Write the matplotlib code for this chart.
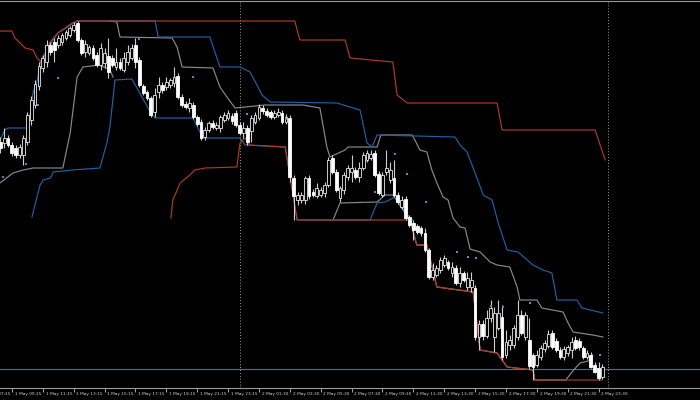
import matplotlib
matplotlib.use("Agg")
import matplotlib.pyplot as plt
import numpy as np

# M15 candles, bar index 0 = 1 May 07:15, price in points
first_bar = 5
opens = [258, 257, 262, 255, 252, 245, 245, 258, 280, 295, 314, 332, 338, 355, 358, 355, 358, 362, 365, 370,
         377, 360, 348, 347, 352, 345, 335, 337, 344, 342, 333, 338, 330, 338, 342, 355, 340, 314, 308, 302,
         288, 308, 315, 313, 315, 317, 324, 303, 296, 292, 295, 283, 278, 263, 270, 277, 272, 272, 280, 282,
         284, 287, 275, 267, 272, 269, 278, 282, 292, 289, 288, 283, 285, 287, 278, 282, 222, 200, 200, 200,
         222, 208, 204, 205, 207, 215, 242, 228, 202, 210, 223, 228, 230, 223, 232, 240, 242, 247, 226, 205,
         228, 220, 222, 205, 193, 201, 183, 177, 174, 172, 167, 150, 123, 125, 130, 135, 138, 127, 132, 117,
         127, 113, 113, 112, 63, 76, 64, 82, 63, 72, 83, 45, 55, 55, 63, 85, 63, 60, 45, 35,
         43, 51, 54, 67, 59, 50, 43, 47, 50, 60, 59, 52, 43, 45, 35, 32, 23]
highs = [263, 272, 265, 258, 255, 256, 265, 288, 304, 320, 338, 345, 360, 358, 362, 365, 367, 370, 374, 378,
         379, 362, 360, 355, 355, 348, 357, 352, 362, 345, 352, 342, 348, 355, 356, 362, 343, 316, 310, 304,
         312, 323, 318, 323, 322, 333, 327, 306, 299, 302, 298, 285, 281, 273, 279, 280, 278, 285, 288, 290,
         287, 290, 278, 278, 275, 285, 288, 296, 295, 292, 290, 290, 292, 290, 286, 285, 225, 208, 208, 224,
         225, 211, 217, 213, 218, 243, 245, 231, 214, 228, 235, 245, 233, 238, 248, 250, 250, 250, 229, 228,
         250, 238, 240, 208, 204, 204, 185, 180, 176, 174, 172, 152, 137, 135, 143, 145, 140, 138, 135, 133,
         129, 128, 128, 115, 80, 80, 90, 100, 93, 100, 95, 70, 65, 75, 100, 90, 88, 82, 47, 50,
         55, 60, 70, 70, 62, 53, 54, 55, 63, 64, 62, 54, 50, 48, 38, 38, 36]
lows = [247, 252, 253, 244, 242, 242, 235, 255, 275, 292, 310, 328, 333, 345, 338, 352, 355, 360, 363, 368,
        358, 345, 343, 345, 340, 333, 330, 332, 322, 333, 330, 330, 328, 335, 340, 332, 313, 305, 300, 283,
        283, 302, 307, 310, 312, 313, 301, 293, 291, 288, 281, 274, 260, 260, 268, 271, 270, 268, 278, 280,
        276, 273, 265, 262, 255, 258, 276, 280, 286, 283, 281, 281, 283, 276, 276, 218, 180, 195, 197, 196,
        201, 203, 202, 203, 203, 213, 226, 208, 198, 206, 220, 218, 221, 218, 230, 238, 240, 223, 205, 203,
        225, 217, 203, 196, 191, 180, 173, 160, 166, 164, 148, 121, 120, 123, 127, 133, 130, 123, 115, 113,
        118, 110, 108, 60, 50, 60, 62, 78, 48, 70, 40, 42, 50, 52, 60, 65, 60, 31, 20, 33,
        40, 48, 52, 51, 48, 41, 40, 44, 42, 50, 50, 41, 41, 32, 27, 20, 21]
closes = [252, 262, 255, 247, 245, 253, 262, 285, 300, 316, 334, 342, 355, 348, 350, 362, 365, 368, 372, 375,
          360, 347, 356, 353, 342, 335, 352, 347, 328, 335, 338, 332, 342, 348, 352, 338, 315, 307, 302, 285,
          305, 315, 310, 318, 320, 323, 303, 295, 293, 297, 283, 276, 262, 270, 277, 273, 275, 283, 285, 287,
          279, 275, 267, 272, 258, 282, 285, 293, 289, 285, 283, 287, 288, 278, 283, 223, 204, 205, 205, 222,
          204, 205, 212, 210, 215, 240, 228, 210, 212, 225, 232, 232, 223, 232, 245, 247, 246, 225, 207, 225,
          232, 230, 205, 198, 200, 182, 175, 170, 168, 167, 150, 123, 130, 132, 140, 142, 132, 133, 117, 127,
          120, 122, 120, 63, 76, 64, 82, 92, 87, 87, 43, 58, 60, 72, 85, 67, 85, 34, 33, 45,
          52, 57, 66, 53, 50, 43, 51, 53, 58, 52, 53, 43, 47, 33, 28, 22, 33]

# channel lines: (bar index, price) vertices
red_up_x = [4.9, 8.0, 8.8, 11.4, 13.5, 14.5, 15.5, 16.6, 17.9, 19.9, 21.8, 23.6, 24.9, 81.3, 82.6, 94.3, 95.6,
            106.7, 107.8, 110.4, 133.7, 135.0, 159.1, 161.7]
red_up_y = [369, 369, 362, 352, 350, 342, 338, 345, 358, 367, 372, 377, 379, 379, 360, 360, 342,
            338, 305, 297, 297, 270, 270, 240]
red_lo_x = [49.2, 49.7, 51.6, 54.1, 55.4, 58.0, 66.3, 67.1, 68.4, 69.7, 78.8, 81.9, 111.1, 112.9, 115.5, 118.1,
            127.5, 129.3, 133.7, 136.3, 143.0, 143.5, 160.9]
red_lo_y = [182, 200, 217, 225, 230, 232, 233, 257, 262, 255, 253, 180, 180, 155, 155, 113,
            108, 50, 47, 33, 30, 20, 20]
blue_up_x = [4.9, 6.2, 7.0, 11.9, 12.7, 13.5, 14.5, 15.3, 15.8, 19.9, 24.9, 45.1, 45.9, 59.3, 61.9, 67.1, 69.7,
             71.5, 72.8, 74.9, 92.2, 98.2, 100.0, 101.3, 102.6, 122.8, 124.1, 125.9, 128.0, 130.1, 132.4,
             134.0, 136.3, 139.1, 141.5, 143.0, 145.6, 147.9, 149.2, 154.4, 155.7, 161.1]
blue_up_y = [260, 270, 272, 272, 285, 308, 318, 337, 342, 367, 379, 379, 363, 363, 333, 333, 328,
             315, 305, 298, 297, 290, 257, 253, 265, 263, 255, 248, 227, 205, 200,
             177, 150, 148, 140, 135, 130, 127, 100, 100, 92, 87]
blue_lo_x = [13.2, 14.5, 15.3, 16.1, 18.0, 18.7, 23.6, 30.8, 31.6, 32.6, 33.4, 34.7, 39.1, 44.3, 45.1, 54.9,
             57.5, 67.1, 68.4, 78.8, 81.9, 100.8, 102.6, 104.7, 107.3, 111.1, 111.9]
blue_lo_y = [183, 203, 215, 220, 222, 228, 230, 232, 243, 257, 273, 320, 321, 285, 282, 282,
             262, 262, 255, 253, 180, 180, 197, 198, 203, 182, 180]
gray_up_x = [33.4, 35.2, 36.0, 49.5, 50.8, 52.1, 60.1, 61.9, 63.7, 65.8, 73.6, 83.4, 87.8, 89.6, 90.4, 94.3,
             95.1, 102.6, 103.6, 111.7, 112.4, 113.7, 115.5, 116.8, 118.1, 119.7, 121.0, 122.3, 124.1, 125.4,
             126.7, 129.3, 131.9, 133.7, 137.0, 138.9, 139.6, 144.0, 145.3, 150.8, 152.1, 153.4, 158.5, 161.1]
gray_up_y = [379, 378, 363, 362, 353, 333, 332, 313, 303, 292, 295, 295, 292, 253, 243, 250,
             253, 253, 265, 265, 260, 250, 248, 230, 217, 203, 200, 182, 173, 172,
             151, 148, 138, 135, 133, 113, 100, 100, 92, 88, 77, 68, 65, 63]
gray_lo_x = [4.9, 8.3, 10.9, 13.5, 21.2, 23.1, 24.9, 26.4, 30.8, 33.4, 34.2]
gray_lo_y = [217, 227, 230, 232, 232, 267, 323, 333, 335, 330, 323]
gray_lo2_x = [91.2, 93.0, 102.6, 104.7, 106.7, 111.1, 112.9, 115.5, 118.1, 127.5, 129.3, 133.7, 136.3, 143.0,
              143.5, 151.5, 153.1, 155.2, 157.3, 158.5]
gray_lo2_y = [180, 197, 198, 205, 205, 180, 155, 155, 113, 108, 50, 47, 33, 30, 20, 20, 28, 37, 39, 45]

# fractal marks
frac_up_x = [14.8, 19.9, 68.9, 79.1, 110.4, 115.2, 123.3, 126.2, 128.3, 132.1, 135.2, 142.3, 160.4]
frac_up_y = [295, 322, 286, 281, 226, 198, 148, 143, 142, 94, 93, 97, 45]
frac_dn_x = [5.7, 11.7, 40.9, 54.9, 102.1, 107.3]
frac_dn_y = [223, 236, 361, 323, 208, 246]

bid = 31
day_sep = [67.1, 162.4]
tick_labels = ["1 May 07:15", "1 May 09:15", "1 May 11:15", "1 May 13:15", "1 May 15:15", "1 May 17:15",
               "1 May 19:15", "1 May 21:15", "1 May 23:15", "2 May 01:30", "2 May 03:30", "2 May 05:30",
               "2 May 07:30", "2 May 09:30", "2 May 11:30", "2 May 13:30", "2 May 15:30", "2 May 17:30",
               "2 May 19:30", "2 May 21:30", "2 May 23:30"]

o = np.array(opens); h = np.array(highs); l = np.array(lows); c = np.array(closes)
idx = np.arange(first_bar, first_bar + len(o))

fig = plt.figure(figsize=(7, 4), dpi=100, facecolor="black")
ax = fig.add_axes([0, 12 / 400, 1, 387 / 400], facecolor="black")

ax.axhline(bid, color="#5b6b7c", lw=0.8, zorder=1)
for d in day_sep:
    ax.axvline(d, color="#9a9a9a", lw=0.7, ls=(0, (1, 2)), zorder=1)

red = "#b23a22"
blue = "#1f62a6"
gray = "#8a8a8a"
ax.plot(gray_up_x, gray_up_y, color=gray, lw=0.85, zorder=2)
ax.plot(gray_lo_x, gray_lo_y, color=gray, lw=0.85, zorder=2)
ax.plot(gray_lo2_x, gray_lo2_y, color=gray, lw=0.85, zorder=2)
ax.plot(blue_up_x, blue_up_y, color=blue, lw=0.85, zorder=3)
ax.plot(blue_lo_x, blue_lo_y, color=blue, lw=0.85, zorder=3)
ax.plot(red_up_x, red_up_y, color=red, lw=0.85, zorder=4)
ax.plot(red_lo_x, red_lo_y, color=red, lw=0.85, zorder=4)

ax.vlines(idx, l, h, color="#cfcfcf", lw=0.8, zorder=5)
up = c >= o
ax.bar(idx[up], (c - o)[up], bottom=o[up], width=0.72, color="black", edgecolor="#e8e8e8", lw=0.6, zorder=6)
ax.bar(idx[~up], (o - c)[~up], bottom=c[~up], width=0.72, color="white", edgecolor="white", lw=0.6, zorder=6)

ax.scatter(frac_up_x, frac_up_y, s=2.5, marker="s", color="#9a6fc0", lw=0, zorder=7)
ax.scatter(frac_dn_x, frac_dn_y, s=2.5, marker="s", color="#4a86c8", lw=0, zorder=7)

ticks = np.arange(0, 8 * len(tick_labels), 8)
ax.set_xticks(ticks)
ax.set_xticklabels([])
ax.tick_params(axis="x", direction="out", length=3, color="#bdbdbd", width=0.6)
ax.set_yticks([])
# set limits after the ticks, set_xticks would widen the view
ax.set_xlim(4.92, 186.27)
ax.set_ylim(12, 399)
for t, s in zip(ticks, tick_labels):
    ax.annotate(s, (t, 0), xycoords=("data", "axes fraction"), xytext=(2, -4.5), textcoords="offset points",
                fontsize=3.1, color="#d0d0d0", ha="left", va="center", annotation_clip=False)
for side in ["left", "right"]:
    ax.spines[side].set_visible(False)
for side in ["top", "bottom"]:
    ax.spines[side].set_color("#9a9a9a")
    ax.spines[side].set_linewidth(0.8)

fig.savefig("out.png", dpi=100, facecolor="black")
